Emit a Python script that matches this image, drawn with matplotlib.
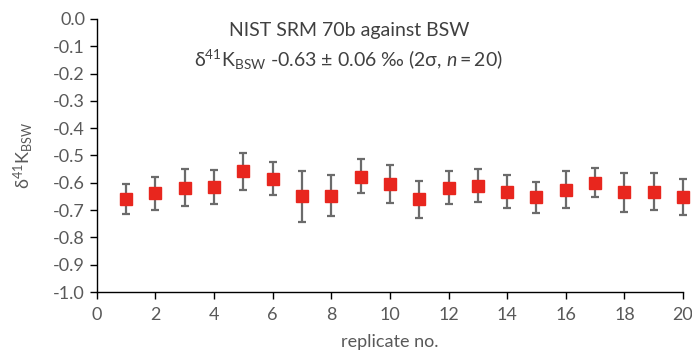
#!/usr/bin/env python3
"""
NIST SRM 70b 對 BSW 的重複測量 δ41K 圖
"""

import numpy as np
import matplotlib
matplotlib.use('Agg')
import matplotlib.pyplot as plt

# 數據
replicate = [1, 2, 3, 4, 5, 6, 7, 8, 9, 10, 11, 12, 13, 14, 15, 16, 17, 18, 19, 20]
d41k = [-0.660, -0.637, -0.619, -0.615, -0.558, -0.585, -0.650, -0.650, -0.577, -0.606,
        -0.660, -0.618, -0.611, -0.634, -0.652, -0.626, -0.600, -0.634, -0.634, -0.652]
err_top = [-0.604, -0.579, -0.549, -0.553, -0.490, -0.523, -0.556, -0.571, -0.512, -0.536,
           -0.592, -0.558, -0.549, -0.571, -0.596, -0.558, -0.546, -0.563, -0.565, -0.585]
err_bottom = [-0.714, -0.700, -0.684, -0.678, -0.626, -0.646, -0.742, -0.722, -0.639, -0.675,
              -0.728, -0.678, -0.672, -0.694, -0.711, -0.694, -0.651, -0.707, -0.700, -0.718]

x_ticks = [0, 2, 4, 6, 8, 10, 12, 14, 16, 18, 20]
y_ticks = [0.0, -0.1, -0.2, -0.3, -0.4, -0.5, -0.6, -0.7, -0.8, -0.9, -1.0]

# 字體設定
plt.rcParams['font.family'] = ['Lato', 'DejaVu Sans']
plt.rcParams['mathtext.fontset'] = 'custom'
plt.rcParams['mathtext.rm'] = 'Lato'
plt.rcParams['mathtext.it'] = 'Lato:italic'
plt.rcParams['mathtext.default'] = 'regular'

grey_text = '#595959'

fig = plt.figure(figsize=(6.92, 3.51), dpi=100)
ax = fig.add_axes([0.140, 0.168, 0.847, 0.778])

yerr = [np.array(d41k) - np.array(err_bottom), np.array(err_top) - np.array(d41k)]
ax.errorbar(replicate, d41k, yerr=yerr, fmt='s', color='#e8261e', markersize=8.5,
            ecolor='#6b6b6b', elinewidth=1.6, capsize=3, capthick=1.6, zorder=3,
            clip_on=False)

ax.set_xlim(0, 20)
ax.set_ylim(-1.0, 0.0)
ax.set_xticks(x_ticks)
ax.set_yticks(y_ticks)
ax.set_yticklabels([f'{v:.1f}' for v in y_ticks])

for side in ['top', 'right']:
    ax.spines[side].set_visible(False)
for side in ['left', 'bottom']:
    ax.spines[side].set_color('black')
    ax.spines[side].set_linewidth(1.0)

ax.tick_params(axis='both', direction='out', length=5, width=1.0, colors='black',
               labelcolor=grey_text, labelsize=13)
ax.tick_params(axis='x', pad=6)

ax.set_xlabel('replicate no.', color=grey_text, fontsize=13, labelpad=8)
ax.set_ylabel('δ$^{41}$K$_{BSW}$', color=grey_text, fontsize=13, labelpad=13)

# 標題
ax.text(0.430, 0.956, 'NIST SRM 70b against BSW', transform=ax.transAxes,
        ha='center', va='center', fontsize=14, color='#404040')
ax.text(0.430, 0.850, 'δ$^{41}$K$_{BSW}$ -0.63 ± 0.06 ‰ (2σ, $\\mathit{n=20}$)',
        transform=ax.transAxes, ha='center', va='center', fontsize=14, color='#404040')

plt.savefig('out.png', dpi=100)
